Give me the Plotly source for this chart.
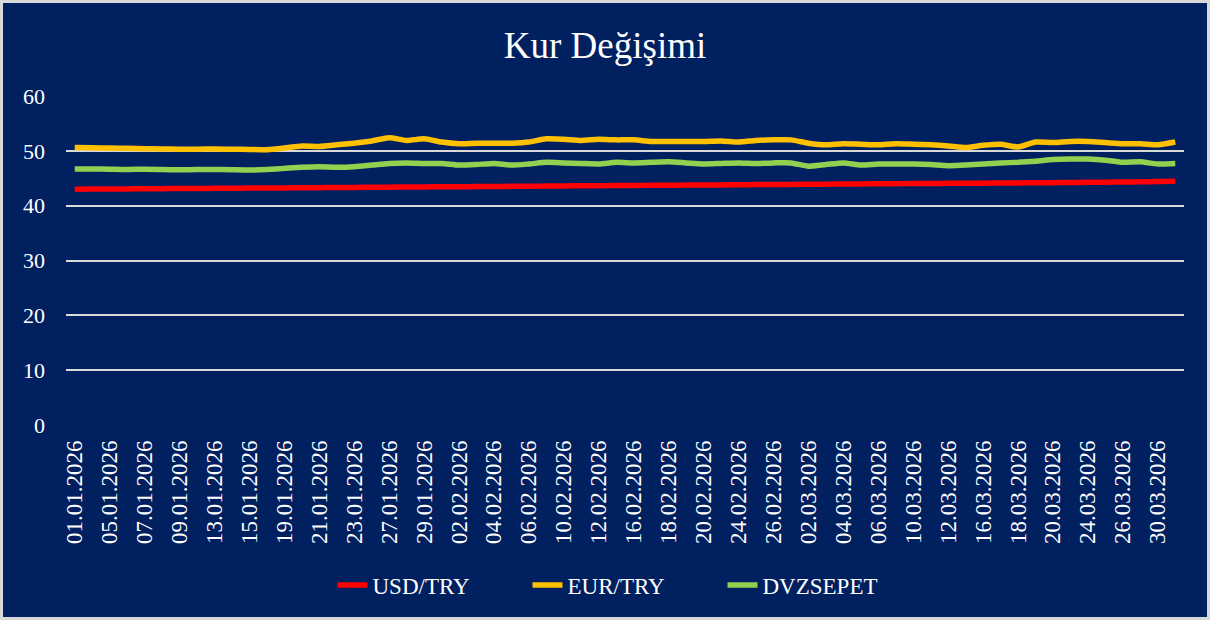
import plotly.graph_objects as go

dates = [
    "01.01.2026", "02.01.2026", "05.01.2026", "06.01.2026", "07.01.2026", "08.01.2026",
    "09.01.2026", "12.01.2026", "13.01.2026", "14.01.2026", "15.01.2026", "16.01.2026",
    "19.01.2026", "20.01.2026", "21.01.2026", "22.01.2026", "23.01.2026", "26.01.2026",
    "27.01.2026", "28.01.2026", "29.01.2026", "30.01.2026", "02.02.2026", "03.02.2026",
    "04.02.2026", "05.02.2026", "06.02.2026", "09.02.2026", "10.02.2026", "11.02.2026",
    "12.02.2026", "13.02.2026", "16.02.2026", "17.02.2026", "18.02.2026", "19.02.2026",
    "20.02.2026", "23.02.2026", "24.02.2026", "25.02.2026", "26.02.2026", "27.02.2026",
    "02.03.2026", "03.03.2026", "04.03.2026", "05.03.2026", "06.03.2026", "09.03.2026",
    "10.03.2026", "11.03.2026", "12.03.2026", "13.03.2026", "16.03.2026", "17.03.2026",
    "18.03.2026", "19.03.2026", "20.03.2026", "23.03.2026", "24.03.2026", "25.03.2026",
    "26.03.2026", "27.03.2026", "30.03.2026", "31.03.2026",
]

usd_try = [
    43.00, 43.02, 43.04, 43.06, 43.08, 43.10, 43.12, 43.14,
    43.16, 43.18, 43.20, 43.22, 43.24, 43.27, 43.29, 43.31,
    43.33, 43.35, 43.37, 43.40, 43.42, 43.44, 43.46, 43.48,
    43.50, 43.53, 43.55, 43.57, 43.60, 43.62, 43.64, 43.67,
    43.69, 43.71, 43.73, 43.75, 43.77, 43.79, 43.81, 43.84,
    43.86, 43.88, 43.90, 43.92, 43.94, 43.96, 43.99, 44.01,
    44.03, 44.05, 44.07, 44.09, 44.11, 44.13, 44.15, 44.17,
    44.19, 44.22, 44.25, 44.28, 44.31, 44.35, 44.40, 44.45,
]

eur_try = [
    50.60, 50.55, 50.50, 50.45, 50.40, 50.35, 50.30, 50.30,
    50.35, 50.30, 50.25, 50.20, 50.50, 50.90, 50.80, 51.10,
    51.40, 51.80, 52.40, 51.90, 52.20, 51.60, 51.30, 51.40,
    51.40, 51.40, 51.60, 52.20, 52.10, 51.90, 52.10, 52.00,
    52.00, 51.70, 51.70, 51.70, 51.70, 51.80, 51.60, 51.90,
    52.00, 52.00, 51.40, 51.10, 51.30, 51.20, 51.10, 51.30,
    51.20, 51.10, 50.90, 50.60, 51.00, 51.20, 50.70, 51.60,
    51.50, 51.70, 51.70, 51.50, 51.30, 51.30, 51.10, 51.60,
]

dvz_sepet = [
    46.70, 46.70, 46.65, 46.60, 46.65, 46.60, 46.55, 46.60,
    46.60, 46.55, 46.50, 46.60, 46.80, 47.00, 47.10, 47.00,
    47.10, 47.40, 47.70, 47.80, 47.70, 47.70, 47.40, 47.50,
    47.70, 47.40, 47.60, 47.90, 47.80, 47.70, 47.60, 47.90,
    47.80, 47.90, 48.00, 47.80, 47.60, 47.70, 47.80, 47.70,
    47.80, 47.80, 47.20, 47.50, 47.80, 47.40, 47.60, 47.60,
    47.60, 47.50, 47.30, 47.40, 47.60, 47.80, 47.90, 48.10,
    48.40, 48.50, 48.50, 48.30, 47.90, 48.00, 47.60, 47.70,
]

y_ticks = [0, 10, 20, 30, 40, 50, 60]

series = [
    ("USD/TRY", usd_try, "#FF0000"),
    ("EUR/TRY", eur_try, "#FFC000"),
    ("DVZSEPET", dvz_sepet, "#92D050"),
]

serif = "Liberation Serif"
bg = "#002060"

fig = go.Figure()
for name, values, color in series:
    fig.add_trace(
        go.Scatter(
            x=dates,
            y=values,
            name=name,
            mode="lines",
            line=dict(color=color, width=5.5, shape="spline", smoothing=0.6),
        )
    )

plot_w, plot_h = 1118, 329
ml, mr, mt, mb = 66, 26, 96, 195

fig.update_layout(
    width=1210,
    height=620,
    margin=dict(l=ml, r=mr, t=mt, b=mb),
    paper_bgcolor=bg,
    plot_bgcolor=bg,
    font=dict(family=serif, color="white", size=22),
    title=dict(
        text="Kur Değişimi",
        x=0.5,
        xanchor="center",
        y=1 - 45 / 620,
        yanchor="middle",
        font=dict(size=37, color="white", family=serif),
    ),
    legend=dict(
        orientation="h",
        x=0.5,
        xanchor="center",
        yref="container",
        y=1 - 585 / 620,
        yanchor="middle",
        font=dict(size=23, color="white", family=serif),
        bgcolor="rgba(0,0,0,0)",
        entrywidth=150,
        entrywidthmode="pixels",
    ),
    showlegend=True,
)

fig.update_xaxes(
    type="category",
    range=[-0.5, len(dates) - 0.5],
    tickmode="array",
    tickvals=dates[::2],
    ticktext=dates[::2],
    tickangle=-90,
    tickfont=dict(size=23, color="white", family=serif),
    showgrid=False,
    showline=False,
    ticks="",
    ticklabelstandoff=10,
)
fig.update_yaxes(
    range=[0, 60],
    tickvals=y_ticks,
    showgrid=True,
    gridcolor="#D9D9D9",
    gridwidth=1.5,
    zeroline=False,
    showline=False,
    tickfont=dict(size=22, color="white", family=serif),
    ticks="",
    ticklabelstandoff=20,
)

# outer chart border
fig.add_shape(
    type="rect",
    xref="paper",
    yref="paper",
    x0=-(ml - 1.5) / plot_w,
    x1=1 + (mr - 1.5) / plot_w,
    y0=-(mb - 1.5) / plot_h,
    y1=1 + (mt - 1.5) / plot_h,
    line=dict(color="#D9D9D9", width=3),
    layer="below",
)

fig.write_html(
    "out.html",
    config={"displayModeBar": False},
    post_script="document.body.style.margin='0';",
)
